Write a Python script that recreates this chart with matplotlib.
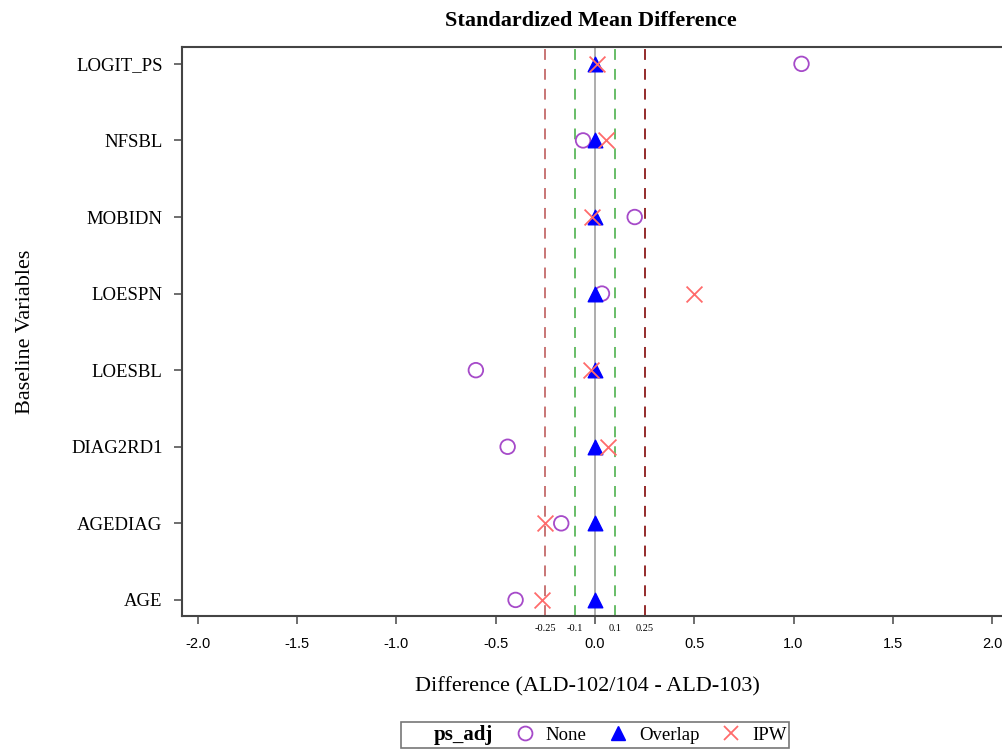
import matplotlib
matplotlib.use("Agg")
import matplotlib.pyplot as plt
from matplotlib.lines import Line2D

# baseline variables, bottom to top
variables = ["AGE", "AGEDIAG", "DIAG2RD1", "LOESBL", "LOESPN", "MOBIDN", "NFSBL", "LOGIT_PS"]
smd_none = [-0.40, -0.17, -0.44, -0.60, 0.035, 0.20, -0.06, 1.04]
smd_overlap = [0.0, 0.0, 0.0, 0.0, 0.0, 0.0, 0.0, 0.0]
smd_ipw = [-0.265, -0.25, 0.065, -0.02, 0.50, -0.015, 0.055, 0.01]

ref_vals = [-0.25, -0.1, 0.1, 0.25]
ref_labels = ["-0.25", "-0.1", "0.1", "0.25"]
ref_colors = ["#c46a6a", "#5cb85c", "#5cb85c", "#8b1a1a"]
xticks = [-2.0, -1.5, -1.0, -0.5, 0.0, 0.5, 1.0, 1.5, 2.0]

serif = "Liberation Serif"
W, H = 1002, 750
fig = plt.figure(figsize=(W / 100, H / 100), dpi=100)
ax = fig.add_axes([182 / W, (H - 616) / H, 826 / W, 569 / H])

ypos = list(range(len(variables)))

ax.axvline(0, color="#a0a0a0", lw=1.2, zorder=1)
for v, c in zip(ref_vals, ref_colors):
    ax.axvline(v, color=c, lw=1.3, ls=(0, (6, 5)), zorder=1)

c_none = "#a64ac9"
c_over = "#0000ff"
c_ipw = "#ff6b6b"
ax.scatter(smd_none, ypos, marker="o", s=110, facecolors="none", edgecolors=c_none, linewidths=1.3, zorder=3)
ax.scatter(smd_overlap, ypos, marker="^", s=110, color=c_over, zorder=4)
ax.scatter(smd_ipw, ypos, marker="x", s=130, color=c_ipw, linewidths=1.3, zorder=5)

ax.set_xlim(-2.08, 2.08)
ax.set_ylim(-0.21, 7.22)
ax.set_yticks(ypos)
ax.set_yticklabels(variables, fontfamily=serif, fontsize=13.5)
ax.set_xticks(xticks)
ax.set_xticklabels(["%.1f" % t for t in xticks], fontfamily="Liberation Sans", fontsize=10.5)
ax.tick_params(axis="both", direction="out", length=6, width=1.2, color="#555555")
ax.tick_params(axis="y", pad=8)
ax.tick_params(axis="x", pad=9)

for s in ax.spines.values():
    s.set_color("#444444")
    s.set_linewidth(1.5)

# small labels for the reference lines under the axis
for v, lab in zip(ref_vals, ref_labels):
    ax.text(v, -0.37, lab, ha="center", va="center", fontsize=7.5, fontfamily=serif, clip_on=False)

fig.text(591 / W, 1 - 21 / H, "Standardized Mean Difference", ha="center", va="center",
         fontfamily=serif, fontsize=16, fontweight="bold")
ax.set_xlabel("Difference (ALD-102/104 - ALD-103)", fontfamily=serif, fontsize=16)
ax.xaxis.set_label_coords((587 - 182) / 826, -(677 - 616) / 569)
ax.set_ylabel("Baseline Variables", fontfamily=serif, fontsize=16)
ax.yaxis.set_label_coords((35 - 182) / 826, 0.5)

handles = [
    Line2D([], [], ls="none", marker=None),
    Line2D([], [], ls="none", marker="o", markersize=10, markerfacecolor="none", markeredgecolor=c_none, markeredgewidth=1.3),
    Line2D([], [], ls="none", marker="^", markersize=10, color=c_over),
    Line2D([], [], ls="none", marker="x", markersize=10, color=c_ipw, markeredgewidth=1.3),
]
labels = ["ps_adj", "None", "Overlap", "IPW"]
leg = fig.legend(handles, labels, ncol=4, loc="upper center", bbox_to_anchor=(595 / W, 1 - 722 / H),
                 frameon=True, fancybox=False, edgecolor="#555555", handlelength=1.0, handletextpad=0.6,
                 columnspacing=1.2, borderpad=0.15, borderaxespad=0, prop={"family": serif, "size": 13.5})
leg.get_frame().set_linewidth(1.2)
leg.get_texts()[0].set_fontweight("bold")
leg.get_texts()[0].set_fontsize(15)

fig.savefig("out.png", dpi=100)
